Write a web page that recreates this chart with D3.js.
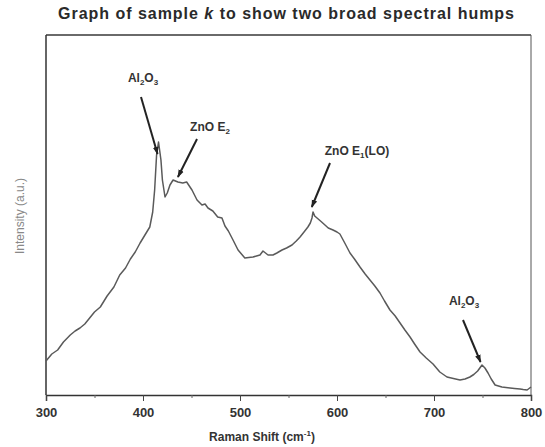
<!DOCTYPE html>
<html><head><meta charset="utf-8">
<script src="https://cdn.jsdelivr.net/npm/d3@7"></script>
<style>body{margin:0;background:#fff}svg{display:block}</style>
</head><body>
<script>
// Raman spectrum
const shift = [300,306,312,318,325,330,335,340,345,350,356,363,370,376,382,387,392,397,402,407,410,412,414,416,418.5,420,422.7,425,427.8,431,436,441,445,450.5,455.7,460.8,464,467,472,477,481.4,484.5,488,492.8,498,505,509,513.4,517,520.6,523.7,528.9,534,538,543.3,548,553.6,558,561.9,566,570,572.5,574.2,575.3,577,579.4,583,587.6,591,595.9,600,603,608,613.4,618,623.7,629,634,639,644.3,649,654.6,660,665,670,675.3,680,685.6,692,699,706,713.4,720,726.8,732,737,741,745,749.5,752.5,755.7,759,763,770,778.4,783,788.7,792,796,800];
const intensity = [340,410,450,530,600,640,670,710,770,830,880,990,1080,1200,1270,1360,1430,1520,1600,1680,1830,2050,2400,2530,2350,2150,1980,2020,2100,2150,2130,2120,2130,2050,1950,1900,1910,1870,1840,1780,1770,1690,1640,1550,1450,1370,1375,1380,1390,1400,1440,1400,1400,1420,1450,1470,1500,1540,1580,1630,1680,1720,1770,1830,1790,1770,1740,1700,1670,1650,1630,1610,1520,1420,1360,1280,1210,1150,1090,1020,940,850,790,720,650,580,510,430,370,310,230,180,165,150,160,180,205,240,300,270,220,160,100,80,70,65,60,55,50,80];
const xTicks = [300,400,500,600,700,800];
const xMinor = [350,450,550,650,750];

const W=545,H=447;
const svg=d3.select("body").append("svg").attr("width",W).attr("height",H);
const x=d3.scaleLinear().domain([300,800]).range([46,531]);
const y=d3.scaleLinear().domain([0,3600]).range([395,35]);
const font="Arial, 'Liberation Sans', sans-serif";

// title
const title=svg.append("text").attr("x",286).attr("y",19).attr("text-anchor","middle")
  .attr("font-family",font).attr("font-size",16).attr("font-weight","bold").attr("fill","#2a2a2a")
  .attr("textLength",456).attr("lengthAdjust","spacing");
title.append("tspan").text("Graph of sample ");
title.append("tspan").attr("font-style","italic").text("k");
title.append("tspan").text(" to show two broad spectral humps");

// frame
svg.append("line").attr("x1",46).attr("x2",531).attr("y1",y(3600)).attr("y2",y(3600)).attr("stroke","#6a6a6a").attr("stroke-width",2);
svg.append("line").attr("x1",531).attr("x2",531).attr("y1",35).attr("y2",395).attr("stroke","#555").attr("stroke-width",1);
svg.append("line").attr("x1",46).attr("x2",46).attr("y1",35).attr("y2",395).attr("stroke","#333").attr("stroke-width",1.5);

// x axis
const ax=svg.append("g").attr("transform","translate(0,395)")
  .call(d3.axisBottom(x).tickValues(xTicks).tickSize(6).tickFormat(d3.format("d")));
ax.select(".domain").attr("stroke","#333").attr("stroke-width",1.5);
ax.selectAll(".tick line").attr("stroke","#444");
ax.selectAll("text").attr("font-family",font).attr("font-size",13).attr("font-weight","bold").attr("fill","#333").attr("dy","1.0em");
svg.append("g").attr("transform","translate(0,395)")
  .call(d3.axisBottom(x).tickValues(xMinor).tickSize(3).tickFormat(""))
  .call(g=>g.select(".domain").remove())
  .selectAll(".tick line").attr("stroke","#666");

// x title
const xt=svg.append("text").attr("x",262).attr("y",441).attr("text-anchor","middle")
  .attr("font-family",font).attr("font-size",12).attr("font-weight","bold").attr("fill","#333");
xt.append("tspan").text("Raman Shift (cm");
xt.append("tspan").attr("font-size",8).attr("dy",-5).text("-1");
xt.append("tspan").attr("dy",5).text(")");

// y title
svg.append("text").attr("transform","translate(24,216) rotate(-90)").attr("text-anchor","middle")
  .attr("font-family",font).attr("font-size",12).attr("fill","#888").text("Intensity (a.u.)");

// spectrum
const data=shift.map((s,i)=>({s,v:intensity[i]}));
svg.append("path").datum(data).attr("fill","none").attr("stroke","#5a5a5a").attr("stroke-width",1.5)
  .attr("stroke-linejoin","round")
  .attr("d",d3.line().x(d=>x(d.s)).y(d=>y(d.v)).curve(d3.curveLinear));

// annotations
svg.append("defs").append("marker").attr("id","ah").attr("viewBox","0 0 10 10").attr("refX",9).attr("refY",5)
  .attr("markerWidth",4).attr("markerHeight",4).attr("orient","auto")
  .append("path").attr("d","M0,1.5 L10,5 L0,8.5 z").attr("fill","#222");

function label(cx,cy,parts){
  const t=svg.append("text").attr("x",cx).attr("y",cy).attr("text-anchor","middle")
    .attr("font-family",font).attr("font-size",12).attr("font-weight","bold").attr("fill","#333");
  let prevSub=false;
  parts.forEach(([s,sub])=>{
    const ts=t.append("tspan").text(s);
    if(sub){ts.attr("font-size",8).attr("dy",prevSub?0:3);}
    else if(prevSub){ts.attr("dy",-3);}
    prevSub=!!sub;
  });
}
function arrow(x1,y1,x2,y2){
  svg.append("line").attr("x1",x1).attr("y1",y1).attr("x2",x2).attr("y2",y2)
    .attr("stroke","#222").attr("stroke-width",2).attr("marker-end","url(#ah)");
}
label(143,82,[["Al",0],["2",1],["O",0],["3",1]]);
arrow(141,97,x(415),y(2430)+2);
label(210,131,[["ZnO E",0],["2",1]]);
arrow(197,139,x(436),y(2150)-3);
label(357,155,[["ZnO E",0],["1",1],["(LO)",0]]);
arrow(330,163,x(574),y(1880));
label(464,305,[["Al",0],["2",1],["O",0],["3",1]]);
arrow(463,320,x(748),y(330));
</script>
</body></html>
